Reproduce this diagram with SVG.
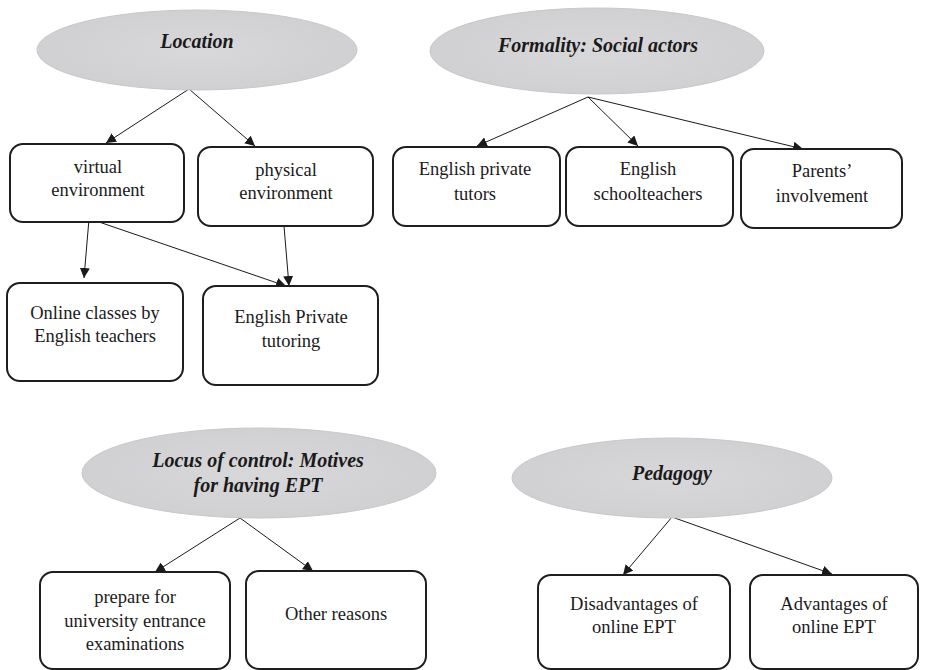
<svg xmlns="http://www.w3.org/2000/svg" width="929" height="670" viewBox="0 0 929 670">
<style>
.bg{fill:#ffffff}
.ell{fill:url(#g);stroke:#c8c8ca;stroke-width:1}
.box{fill:#ffffff;stroke:#1e1e1e;stroke-width:2}
.t{font-family:'Liberation Serif','Times New Roman',Times,'DejaVu Serif',serif;font-size:18.5px;fill:#1a1a1a;text-anchor:middle}
.h{font-family:'Liberation Serif','Times New Roman',Times,'DejaVu Serif',serif;font-size:20px;font-weight:bold;font-style:italic;fill:#1a1a1a;text-anchor:middle}
.c{stroke:#1a1a1a;stroke-width:1;fill:none;marker-end:url(#a)}
</style>
<defs>
<radialGradient id="g" cx="0.5" cy="0.5" r="0.6">
<stop offset="0" stop-color="#d8d8da"/>
<stop offset="1" stop-color="#cfcfd1"/>
</radialGradient>
<marker id="a" viewBox="0 0 10 10" refX="10" refY="5" markerWidth="10" markerHeight="10" markerUnits="userSpaceOnUse" orient="auto">
<path d="M0,0 L10,5 L0,10 z" fill="#1a1a1a"/>
</marker>
</defs>
<rect class="bg" x="0" y="0" width="929" height="670"/>
<g id="connectors">
<line class="c" x1="189" y1="89" x2="106" y2="143"/>
<line class="c" x1="189" y1="89" x2="255" y2="146"/>
<line class="c" x1="89" y1="219" x2="84" y2="278"/>
<line class="c" x1="99" y1="222" x2="286" y2="286"/>
<line class="c" x1="284" y1="226" x2="289" y2="286"/>
<line class="c" x1="588" y1="97" x2="477" y2="146"/>
<line class="c" x1="588" y1="97" x2="638" y2="146"/>
<line class="c" x1="588" y1="97" x2="803" y2="149"/>
<line class="c" x1="240" y1="518" x2="155" y2="572"/>
<line class="c" x1="240" y1="518" x2="313" y2="571"/>
<line class="c" x1="672" y1="517" x2="623" y2="575"/>
<line class="c" x1="672" y1="517" x2="832" y2="574"/>
</g>
<g id="location">
<ellipse class="ell" cx="197" cy="50" rx="160" ry="40"/>
<text class="h" x="197" y="48">Location</text>
</g>
<g id="virtual">
<rect class="box" x="10" y="144" width="174" height="78" rx="13"/>
<text class="t" x="98" y="173">virtual</text>
<text class="t" x="98" y="196">environment</text>
</g>
<g id="physical">
<rect class="box" x="198" y="147" width="175" height="79" rx="13"/>
<text class="t" x="286" y="176">physical</text>
<text class="t" x="286" y="199">environment</text>
</g>
<g id="online">
<rect class="box" x="7" y="283" width="176" height="98" rx="13"/>
<text class="t" x="95" y="319">Online classes by</text>
<text class="t" x="95" y="342">English teachers</text>
</g>
<g id="private">
<rect class="box" x="203" y="286" width="175" height="99" rx="13"/>
<text class="t" x="291" y="323">English Private</text>
<text class="t" x="291" y="347">tutoring</text>
</g>
<g id="formality">
<ellipse class="ell" cx="597" cy="51" rx="167" ry="43"/>
<text class="h" x="598" y="52">Formality: Social actors</text>
</g>
<g id="tutors">
<rect class="box" x="393" y="147" width="167" height="79" rx="13"/>
<text class="t" x="475" y="175">English private</text>
<text class="t" x="475" y="200">tutors</text>
</g>
<g id="schoolteachers">
<rect class="box" x="566" y="147" width="167" height="79" rx="13"/>
<text class="t" x="648" y="175">English</text>
<text class="t" x="648" y="200">schoolteachers</text>
</g>
<g id="parents">
<rect class="box" x="741" y="149" width="161" height="79" rx="13"/>
<text class="t" x="822" y="177">Parents’</text>
<text class="t" x="822" y="202">involvement</text>
</g>
<g id="locus">
<ellipse class="ell" cx="259" cy="473" rx="177" ry="45"/>
<text class="h" x="258" y="467">Locus of control: Motives</text>
<text class="h" x="258" y="492">for having EPT</text>
</g>
<g id="prepare">
<rect class="box" x="40" y="572" width="190" height="97" rx="13"/>
<text class="t" x="135" y="603">prepare for</text>
<text class="t" x="135" y="627">university entrance</text>
<text class="t" x="135" y="650">examinations</text>
</g>
<g id="other">
<rect class="box" x="246" y="571" width="180" height="98" rx="13"/>
<text class="t" x="336" y="620">Other reasons</text>
</g>
<g id="pedagogy">
<ellipse class="ell" cx="672" cy="478" rx="160" ry="40"/>
<text class="h" x="672" y="480">Pedagogy</text>
</g>
<g id="disadvantages">
<rect class="box" x="538" y="575" width="192" height="94" rx="13"/>
<text class="t" x="634" y="610">Disadvantages of</text>
<text class="t" x="634" y="633">online EPT</text>
</g>
<g id="advantages">
<rect class="box" x="750" y="575" width="168" height="94" rx="13"/>
<text class="t" x="834" y="610">Advantages of</text>
<text class="t" x="834" y="633">online EPT</text>
</g>
</svg>
